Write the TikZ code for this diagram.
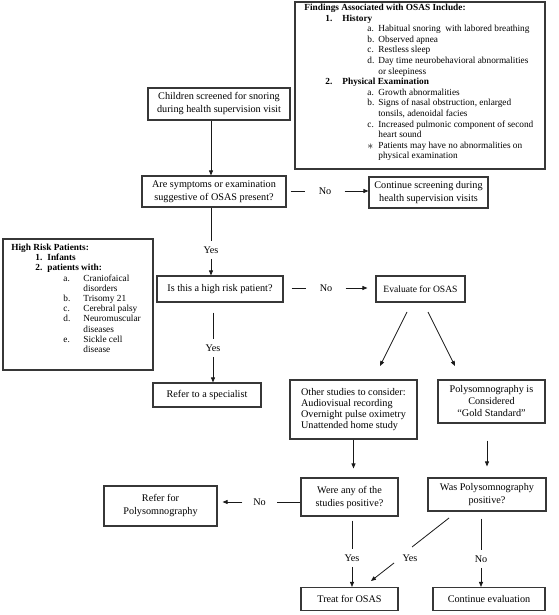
\documentclass[tikz,border=0pt]{standalone}
\usepackage{fontspec}
\setmainfont{Liberation Serif}
\usetikzlibrary{positioning,fit,arrows.meta}
\definecolor{boxgray}{RGB}{55,55,55}
\definecolor{linegray}{RGB}{25,25,25}
% list lines of the two side boxes
\newcommand{\fhead}[2]{\hspace*{21pt}\makebox[17pt][l]{\textbf{#1}}\textbf{#2}}
\newcommand{\fitem}[2]{\hspace*{63pt}\makebox[11pt][l]{#1}#2}
\newcommand{\fcont}[1]{\hspace*{74pt}#1}
\newcommand{\rhead}[2]{\hspace*{24pt}\makebox[12pt][l]{\textbf{#1}}\textbf{#2}}
\newcommand{\ritem}[2]{\hspace*{52pt}\makebox[20pt][l]{#1}#2}
\newcommand{\rcont}[1]{\hspace*{72pt}#1}

\begin{document}
\begin{tikzpicture}[x=1pt,y=-1pt,line width=0.8pt,
  box/.style={draw=boxgray,line width=1.1pt,align=center,inner sep=0pt,
    font=\fontsize{10.2}{13}\selectfont},
  listbox/.style={draw=boxgray,line width=1.1pt,inner sep=0pt},
  listtext/.style={align=left,inner sep=0pt,anchor=north west},
  lbl/.style={inner xsep=13pt,inner ysep=5pt,font=\fontsize{10.2}{12}\selectfont},
  conn/.style={draw=linegray},
  >={Triangle[length=5pt,width=4pt]}
]
\useasboundingbox (0,0) rectangle (558,615);

% the findings box
\node [listbox,fit={(295,2) (545,169)}] (findbox) {};
\node [listtext,font=\fontsize{9.3}{10.6}\selectfont] (findtext) at (304,3.6) {%
  \textbf{Findings Associated with OSAS Include:}\\
  \fhead{1.}{History}\\
  \fitem{a.}{Habitual snoring\ \ with labored breathing}\\
  \fitem{b.}{Observed apnea}\\
  \fitem{c.}{Restless sleep}\\
  \fitem{d.}{Day time neurobehavioral abnormalities}\\
  \fcont{or sleepiness}\\
  \fhead{2.}{Physical Examination}\\
  \fitem{a.}{Growth abnormalities}\\
  \fitem{b.}{Signs of nasal obstruction, enlarged}\\
  \fcont{tonsils, adenoidal facies}\\
  \fitem{c.}{Increased pulmonic component of second}\\
  \fcont{heart sound}\\
  \fitem{\raisebox{-0.25ex}{\large$\ast$}}{Patients may have no abnormalities on}\\
  \fcont{physical examination}};

% the high risk box
\node [listbox,fit={(3,239) (153,370)}] (riskbox) {};
\node [listtext,font=\fontsize{9.3}{10.2}\selectfont] (risktext) at (11,243.7) {%
  \textbf{High Risk Patients:}\\
  \rhead{1.}{Infants}\\
  \rhead{2.}{patients with:}\\
  \ritem{a.}{Craniofaical}\\
  \rcont{disorders}\\
  \ritem{b.}{Trisomy 21}\\
  \ritem{c.}{Cerebral palsy}\\
  \ritem{d.}{Neuromuscular}\\
  \rcont{diseases}\\
  \ritem{e.}{Sickle cell}\\
  \rcont{disease}};

% the steps
\node [box,minimum width=142pt,minimum height=32pt] (children) at (219,104)
  {Children screened for snoring\\during health supervision visit};
\node [box,minimum width=144pt,minimum height=31pt] (symptoms) at (214,191.5)
  {Are symptoms or examination\\suggestive of OSAS present?};
\node [box,minimum width=119pt,minimum height=31pt] (contscreen) at (428.5,192.5)
  {Continue screening during\\health supervision visits};
\node [box,minimum width=126pt,minimum height=26pt] (highrisk) at (220,289)
  {Is this a high risk patient?};
\node [box,minimum width=89pt,minimum height=26pt,font=\fontsize{9.6}{12}\selectfont] (evaluate) at (420.5,289)
  {Evaluate for OSAS};
\node [box,minimum width=108pt,minimum height=24pt] (referspec) at (207,395)
  {Refer to a specialist};
\node [box,align=left,minimum width=127pt,minimum height=59pt,font=\fontsize{10.2}{11.2}\selectfont] (other) at (353.5,409.5)
  {Other studies to consider:\\Audiovisual recording\\Overnight pulse oximetry\\Unattended home study};
\node [box,minimum width=107pt,minimum height=43pt,font=\fontsize{10.2}{12}\selectfont] (poly) at (491.5,401.5)
  {Polysomnography is\\Considered\\``Gold Standard''};
\node [box,minimum width=97pt,minimum height=38pt] (wereany) at (349.5,497)
  {Were any of the\\studies positive?};
\node [box,minimum width=118pt,minimum height=33pt] (waspoly) at (487,494.5)
  {Was Polysomnography\\positive?};
\node [box,minimum width=113pt,minimum height=40pt] (referpoly) at (160.5,506)
  {Refer for\\Polysomnography};
\node [box,minimum width=97pt,minimum height=23pt] (treat) at (349.5,599)
  {Treat for OSAS};
\node [box,minimum width=112pt,minimum height=23pt] (contev) at (489,599)
  {Continue evaluation};

% the yes/no labels
\node [lbl] (no1) at (325,191) {No};
\node [lbl] (yes1) at (211,250) {Yes};
\node [lbl] (no2) at (326,288) {No};
\node [lbl] (yes2) at (213,348) {Yes};
\node [lbl,inner xsep=10.5pt] (no3) at (259.5,502) {No};
\node [lbl] (yes3) at (352,558) {Yes};
\node [lbl] (yes4) at (410,558) {Yes};
\node [lbl] (no4) at (481,559) {No};

% free ends of the slanted arrows
\coordinate (ev1) at (407,312);
\coordinate (ev2) at (380,366);
\coordinate (ev3) at (428,312);
\coordinate (ev4) at (455,366);
\coordinate (wp1) at (449,518);
\coordinate (wp2) at (412,547);
\coordinate (wp3) at (394,563);
\coordinate (wp4) at (371,581);

% the edges
\draw [conn,->] (children.south -| yes1) -- (yes1 |- symptoms.north);
\draw [conn,shorten <=4pt] (symptoms.east |- no1) -- (no1);
\draw [conn,->] (no1) -- (no1 -| contscreen.west);
\draw [conn] (symptoms.south -| yes1) -- (yes1);
\draw [conn,->] (yes1) -- (yes1 |- highrisk.north);
\draw [conn,shorten <=8pt] (highrisk.east |- no2) -- (no2);
\draw [conn,->,shorten >=8pt] (no2) -- (no2 -| evaluate.west);
\draw [conn,shorten <=10pt] (highrisk.south -| yes2) -- (yes2);
\draw [conn,->] (yes2) -- (yes2 |- referspec.north);
\draw [conn,->] (ev1) -- (ev2);
\draw [conn,->] (ev3) -- (ev4);
\draw [conn,->,shorten >=9pt] (other.south) -- (other.south |- wereany.north);
\draw [conn,->,shorten <=17pt,shorten >=11pt] (poly.south -| waspoly.north) -- (waspoly.north);
\draw [conn] (wereany.west |- no3) -- (no3);
\draw [conn,->,shorten >=5pt] (no3) -- (no3 -| referpoly.east);
\draw [conn,shorten <=4pt] (wereany.south -| yes3) -- (yes3);
\draw [conn,->] (yes3) -- (yes3 |- treat.north);
\draw [conn] (wp1) -- (wp2);
\draw [conn,->] (wp3) -- (wp4);
\draw [conn,shorten <=7pt] (waspoly.south -| no4) -- (no4);
\draw [conn,->] (no4) -- (no4 |- contev.north);
\end{tikzpicture}
\end{document}
